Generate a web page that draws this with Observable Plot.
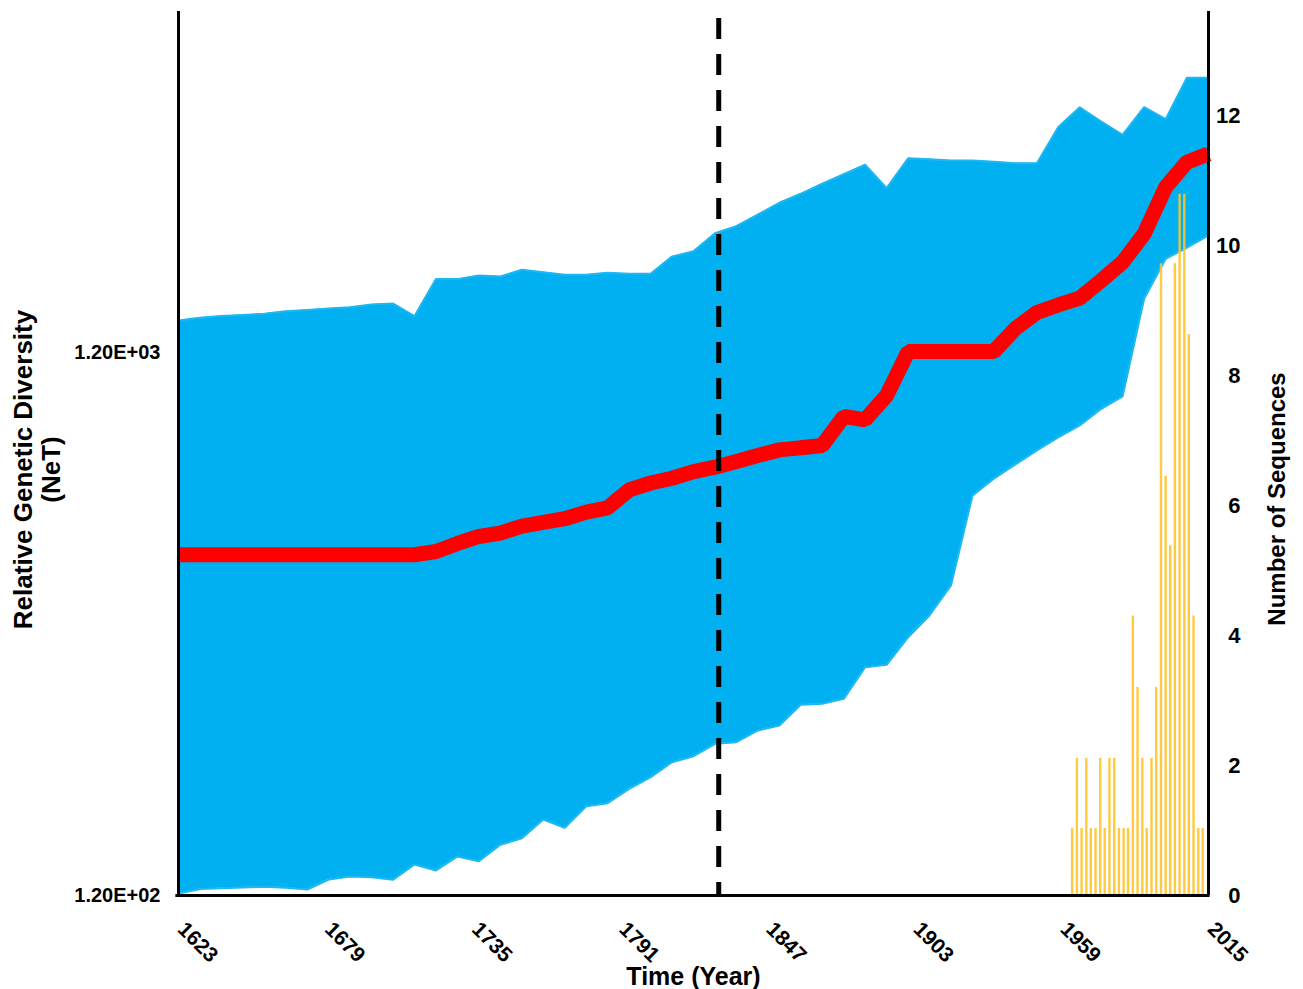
<!DOCTYPE html>
<html><head><meta charset="utf-8">
<script src="https://cdn.jsdelivr.net/npm/d3@7"></script>
<script src="https://cdn.jsdelivr.net/npm/@observablehq/plot@0.6"></script>
<style>
html,body{margin:0;padding:0;background:#fff;}
#chart{position:relative;width:1303px;height:989px;overflow:hidden;}
#chart svg{position:absolute;left:0;top:0;}
</style></head><body>
<div id="chart"></div>
<script>
// Skyline grid (years)
const years = [1623.0,1631.2,1639.3,1647.5,1655.7,1663.8,1672.0,1680.2,1688.3,1696.5,1704.7,1712.8,1721.0,1729.2,1737.3,1745.5,1753.7,1761.8,1770.0,1778.2,1786.3,1794.5,1802.7,1810.8,1819.0,1827.2,1835.3,1843.5,1851.7,1859.8,1868.0,1876.2,1884.3,1892.5,1900.7,1908.8,1917.0,1925.2,1933.3,1941.5,1949.7,1957.8,1966.0,1974.2,1982.3,1990.5,1998.7,2006.8,2015.0];
// Upper 95% HPD of NeT
const upper = [1374,1390,1401,1407,1414,1430,1437,1446,1454,1471,1477,1400,1638,1638,1663,1656,1704,1686,1668,1668,1683,1675,1675,1802,1843,1990,2050,2154,2264,2352,2454,2555,2660,2409,2735,2723,2709,2709,2694,2678,2678,3120,3395,3196,3020,3395,3227,3847,3847];
// Lower 95% HPD of NeT
const lower = [121,123.4,123.8,124.1,124.5,124,123.1,128.4,130.1,129.7,128.3,136.9,133.4,141.6,138.8,148.8,153,165.6,159.9,175.2,177.5,188.6,198.2,211.2,216.6,228.3,229.9,241.6,246.8,269.4,270.6,276.3,316,319.2,358.8,393.4,446.8,654.3,702.6,746.4,792,836.9,880.6,945.2,995.8,1507,1785,1873,1971];
// Median NeT
const median = [509,509,509,509,509,509,509,509,509,509,509,509,516,534,550,558,574.5,584,593,610,621,670,690,704,724,738,756,775.5,794,801,809,915,902,1000,1205,1205,1205,1205,1205,1328,1422,1468,1511,1628,1759,1985,2419,2689,2787];
// Dashed reference year
const eventYear = [1828.6];
// Sequence counts (right axis)
const barYears = [1963.1,1964.9,1966.7,1968.5,1970.2,1972.0,1973.8,1975.5,1977.3,1979.1,1980.9,1982.7,1984.4,1986.2,1988.0,1989.8,1991.5,1993.3,1995.1,1996.9,1998.7,2000.4,2002.2,2004.0,2005.8,2007.5,2009.3,2011.1,2012.8];
const barCounts = [1.03,2.11,1.03,2.11,1.03,1.03,2.11,1.03,2.11,2.11,1.03,1.03,1.03,4.3,3.2,2.11,1.03,2.11,3.2,9.72,6.45,5.38,9.72,10.79,10.79,8.63,4.3,1.03,1.03];
// Ticks
const xTicks = [1623,1679,1735,1791,1847,1903,1959,2015];
const leftTicks = [120,1200];
const leftTickLabels = ["1.20E+02","1.20E+03"];
const rightTicks = [0,2,4,6,8,10,12];

const W = 1303, H = 989;
const font = "'Liberation Sans', Arial, Helvetica, sans-serif";
const band = years.map((y,i)=>({year:y, lo:lower[i], hi:upper[i], med:median[i]}));
const bars = barYears.map((y,i)=>({year:y, n:barCounts[i]}));

const common = {
  width: W, height: H,
  marginTop: 11, marginRight: 95, marginBottom: 94, marginLeft: 178,
  style: {fontFamily: font, fontWeight: "bold", color: "#000", background: "transparent", overflow: "visible"},
  x: {domain: [1623, 2015], axis: null}
};

const p1 = Plot.plot({
  ...common,
  y: {type: "log", domain: [120, 5095], axis: null},
  marks: [
    Plot.areaY(band, {x: "year", y1: "lo", y2: "hi", fill: "#00B0F0"}),
    Plot.lineY(band, {x: "year", y: "hi", stroke: "#1DB7F2", strokeWidth: 2}),
    Plot.lineY(band, {x: "year", y: "lo", stroke: "#1DB7F2", strokeWidth: 2}),
    Plot.lineY(band, {x: "year", y: "med", stroke: "#FF0000", strokeWidth: 15, strokeLinejoin: "miter", strokeLinecap: "butt"}),
    Plot.ruleX(eventYear, {x: d => d, stroke: "#000", strokeWidth: 5, strokeDasharray: "21,15", strokeDashoffset: -7}),
    Plot.axisY({anchor: "left", ticks: leftTicks, tickFormat: d => leftTickLabels[leftTicks.indexOf(d)], tickSize: 0, tickPadding: 18, fontSize: 20, label: null}),
    Plot.text(xTicks, {x: d => d, text: d => String(d), frameAnchor: "bottom", rotate: 45, textAnchor: "start", lineAnchor: "bottom", dy: 35, dx: -2, fontSize: 21}),
    Plot.text(["Relative Genetic Diversity\n(NeT)"], {text: d => d, frameAnchor: "left", rotate: -90, textAnchor: "middle", lineAnchor: "middle", lineHeight: 1.08, dx: -141.5, dy: 16, fontSize: 26}),
    Plot.text(["Time (Year)"], {text: d => d, frameAnchor: "bottom", textAnchor: "middle", lineAnchor: "bottom", dy: 89, fontSize: 25})
  ]
});

const p2 = Plot.plot({
  ...common,
  y: {domain: [0, 13.6], axis: null},
  marks: [
    Plot.ruleX(bars, {x: "year", y1: 0, y2: "n", stroke: "#FFC42A", strokeWidth: 2.4, strokeOpacity: 0.9}),
    Plot.ruleX([1623], {x: d => d, stroke: "#000", strokeWidth: 3}),
    Plot.ruleX([2015], {x: d => d, stroke: "#000", strokeWidth: 3}),
    Plot.ruleY([0], {y: d => d, stroke: "#000", strokeWidth: 3, x1: 1622, x2: 2015.6}),
    Plot.axisY({anchor: "right", ticks: rightTicks, tickSize: 0, tickPadding: 32, textAnchor: "end", fontSize: 22, label: null}),
    Plot.text(["Number of Sequences"], {text: d => d, frameAnchor: "right", rotate: -90, textAnchor: "middle", lineAnchor: "middle", dx: 68.5, dy: 45.5, fontSize: 24})
  ]
});

const chart = document.getElementById("chart");
chart.appendChild(p1);
chart.appendChild(p2);
</script>
</body></html>
